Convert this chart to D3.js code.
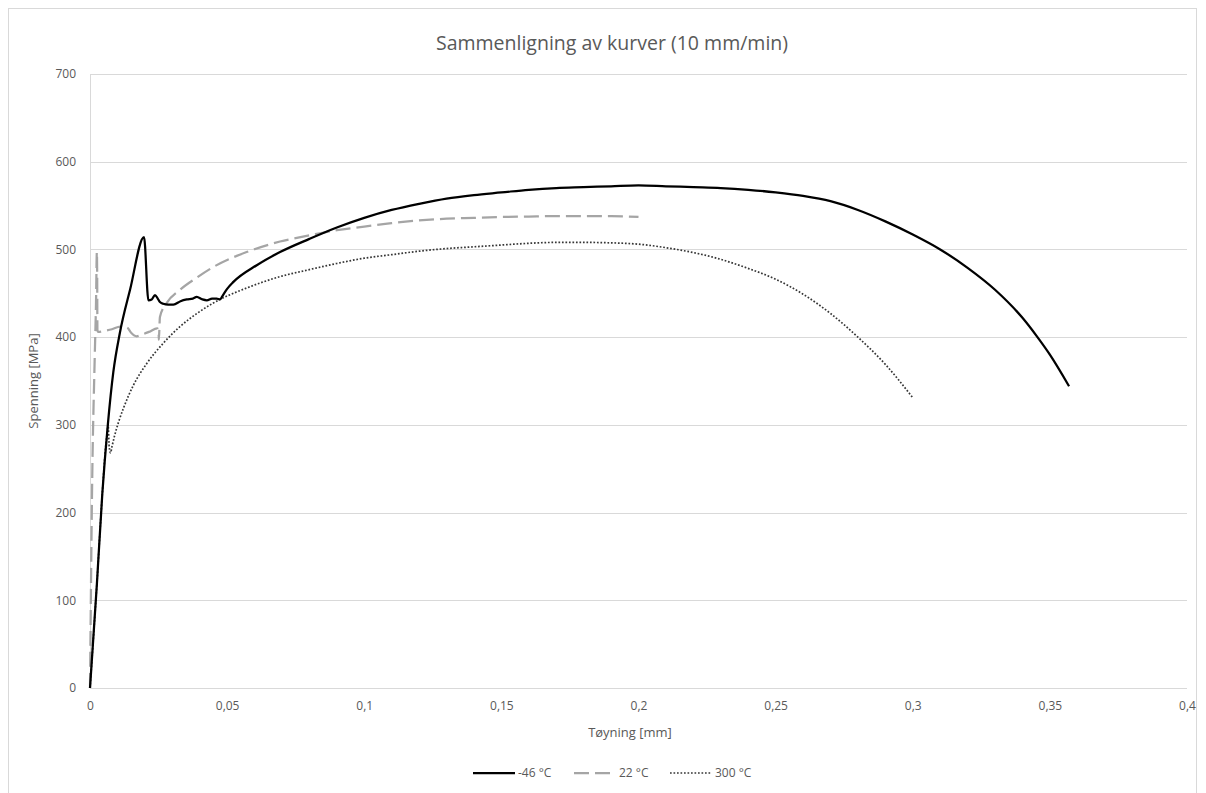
<!DOCTYPE html>
<html>
<head>
<meta charset="utf-8">
<script src="https://cdn.jsdelivr.net/npm/d3@7"></script>
<style>
  body { margin: 0; background: #fff; }
  text { font-family: "Open Sans", "Noto Sans", sans-serif; fill: #595959; }
</style>
</head>
<body>
<figure id="chart" style="margin:0"></figure>
<script>
// -46 °C
var strainCold = [0, 0.0025, 0.0045, 0.0065, 0.0085, 0.0109, 0.0146, 0.0197, 0.0213, 0.0225, 0.0237, 0.0247, 0.0255, 0.0267, 0.0285, 0.0304, 0.033, 0.0353, 0.0375, 0.0389, 0.041, 0.0426, 0.0445, 0.0462, 0.0474, 0.0485, 0.05, 0.0523, 0.0608, 0.0693, 0.08, 0.09, 0.1, 0.11, 0.12, 0.13, 0.14, 0.15, 0.16, 0.17, 0.18, 0.19, 0.2, 0.21, 0.22, 0.23, 0.24, 0.25, 0.26, 0.27, 0.28, 0.29, 0.3, 0.31, 0.32, 0.33, 0.34, 0.345, 0.35, 0.357];
var stressCold = [0, 118, 222, 300, 360, 405, 454, 514, 442, 443, 448, 444, 440, 438, 437, 437, 441, 443, 444, 446, 443, 442, 444, 444, 443, 448, 455, 463, 482, 497, 512, 525, 536, 545, 552, 558, 562, 565, 568, 570, 571, 572, 573, 572, 571, 570, 568, 565, 561, 555, 545, 532, 517, 500, 479, 454, 422, 402, 380, 344];

// 22 °C
var strainRoom = [0, 0.0008, 0.0017, 0.0022, 0.0025, 0.00262, 0.0027, 0.003, 0.005, 0.008, 0.011, 0.0135, 0.015, 0.017, 0.019, 0.0215, 0.0245, 0.025, 0.0251, 0.0255, 0.028, 0.0328, 0.039, 0.045, 0.0571, 0.0693, 0.08, 0.09, 0.1, 0.11, 0.12, 0.13, 0.14, 0.15, 0.16, 0.17, 0.18, 0.19, 0.2];
var stressRoom = [0, 237, 374, 440, 497, 470, 408, 406, 407, 409, 412, 411, 405, 401, 403, 406, 410, 408, 397, 423, 439, 454, 468, 480, 497, 509, 516, 522, 526, 530, 533, 535, 536, 537, 537.5, 538, 538, 538, 537];

// 300 °C
var strainHot = [0, 0.0025, 0.0045, 0.0058, 0.0063, 0.0066, 0.007, 0.0075, 0.008, 0.009, 0.0105, 0.0122, 0.0158, 0.0207, 0.0267, 0.0328, 0.039, 0.045, 0.0571, 0.0693, 0.08, 0.09, 0.1, 0.11, 0.12, 0.13, 0.14, 0.15, 0.16, 0.17, 0.18, 0.19, 0.2, 0.21, 0.2285, 0.2394, 0.25, 0.26, 0.27, 0.28, 0.29, 0.3];
var stressHot = [0, 118, 222, 278, 292, 300, 275, 268, 275, 288, 304, 319, 345, 370, 393, 412, 427, 439, 456, 469, 477, 484, 490, 494, 498, 501, 503, 505, 507, 508, 508, 507.5, 506, 502, 490, 479, 466, 449, 427, 400, 369, 331];

var seriesNames = ["-46 °C", "22 °C", "300 °C"];
var xTicks = [0, 0.05, 0.1, 0.15, 0.2, 0.25, 0.3, 0.35, 0.4];
var yTicks = [0, 100, 200, 300, 400, 500, 600, 700];

let dimensions = {
    width: 1206,
    height: 793,
    margin: {
        top: 74,
        right: 19,
        bottom: 105,
        left: 90,
    },
};
dimensions.boundedWidth = dimensions.width - dimensions.margin.left - dimensions.margin.right;
dimensions.boundedHeight = dimensions.height - dimensions.margin.top - dimensions.margin.bottom;

var root = d3.select("figure#chart")
    .append("svg")
    .attr("width", dimensions.width)
    .attr("height", dimensions.height);

// chart border
root.append("rect")
    .attr("x", 8.5).attr("y", 8.5)
    .attr("width", 1188).attr("height", 800)
    .attr("fill", "none")
    .attr("stroke", "#d9d9d9");

root.append("text")
    .attr("x", 612).attr("y", 50)
    .attr("text-anchor", "middle")
    .style("font-size", "19.5px")
    .text("Sammenligning av kurver (10 mm/min)");

var svg = root.append("g")
    .attr("transform", `translate(${dimensions.margin.left},${dimensions.margin.top})`);

var xScale = d3.scaleLinear()
    .domain([0, 0.4])
    .range([0, dimensions.boundedWidth]);

var yScale = d3.scaleLinear()
    .domain([0, 700])
    .range([dimensions.boundedHeight, 0]);

var fmt = d => String(d).replace(".", ",");

// gridlines
svg.append("g")
    .selectAll("line")
    .data(yTicks)
    .enter()
    .append("line")
    .attr("x1", 0).attr("x2", dimensions.boundedWidth)
    .attr("y1", d => Math.round(yScale(d)) + 0.5)
    .attr("y2", d => Math.round(yScale(d)) + 0.5)
    .attr("stroke", "#d9d9d9");

svg.append("line")
    .attr("x1", 0.5).attr("x2", 0.5)
    .attr("y1", 0).attr("y2", dimensions.boundedHeight)
    .attr("stroke", "#d9d9d9");

// axes
var xAxis = svg.append("g")
    .attr("class", "x axis")
    .attr("transform", `translate(0,${dimensions.boundedHeight})`)
    .call(d3.axisBottom(xScale).tickValues(xTicks).tickFormat(fmt).tickSize(0).tickPadding(13));
xAxis.select(".domain").remove();
xAxis.selectAll("text").style("font-size", "12px").attr("fill", "#595959");

var yAxis = svg.append("g")
    .attr("class", "y axis")
    .call(d3.axisLeft(yScale).tickValues(yTicks).tickSize(0).tickPadding(14));
yAxis.select(".domain").remove();
yAxis.selectAll("text").style("font-size", "12px").attr("fill", "#595959");

root.append("text")
    .attr("transform", "translate(38,381) rotate(-90)")
    .attr("text-anchor", "middle")
    .style("font-size", "13px")
    .text("Spenning [MPa]");

root.append("text")
    .attr("x", 630).attr("y", 737)
    .attr("text-anchor", "middle")
    .style("font-size", "13px")
    .text("Tøyning [mm]");

// curves
var series = [
    { name: seriesNames[0], x: strainCold, y: stressCold, color: "#000000", width: 2.25, dash: null },
    { name: seriesNames[1], x: strainRoom, y: stressRoom, color: "#a5a5a5", width: 2.25, dash: "15,6" },
    { name: seriesNames[2], x: strainHot, y: stressHot, color: "#363636", width: 1.7, dash: "1.7,1.8" },
];

var line = d3.line()
    .x(d => xScale(d[0]))
    .y(d => yScale(d[1]))
    .curve(d3.curveMonotoneX);

series.slice().reverse().forEach(function(s) {
    svg.append("path")
        .datum(s.x.map((v, i) => [v, s.y[i]]))
        .attr("d", line)
        .attr("fill", "none")
        .attr("stroke", s.color)
        .attr("stroke-width", s.width)
        .attr("stroke-dasharray", s.dash)
        .attr("stroke-linejoin", "round");
});

// legend
var legend = root.append("g")
    .attr("transform", "translate(473,773)");
var legendX = [0, 101, 197];
series.forEach(function(s, i) {
    var g = legend.append("g").attr("transform", `translate(${legendX[i]},0)`);
    g.append("line")
        .attr("x1", 0).attr("x2", 42)
        .attr("stroke", s.color)
        .attr("stroke-width", s.width)
        .attr("stroke-dasharray", s.dash);
    g.append("text")
        .attr("x", 45).attr("y", 4)
        .style("font-size", "12px")
        .text(s.name);
});
</script>
</body>
</html>
